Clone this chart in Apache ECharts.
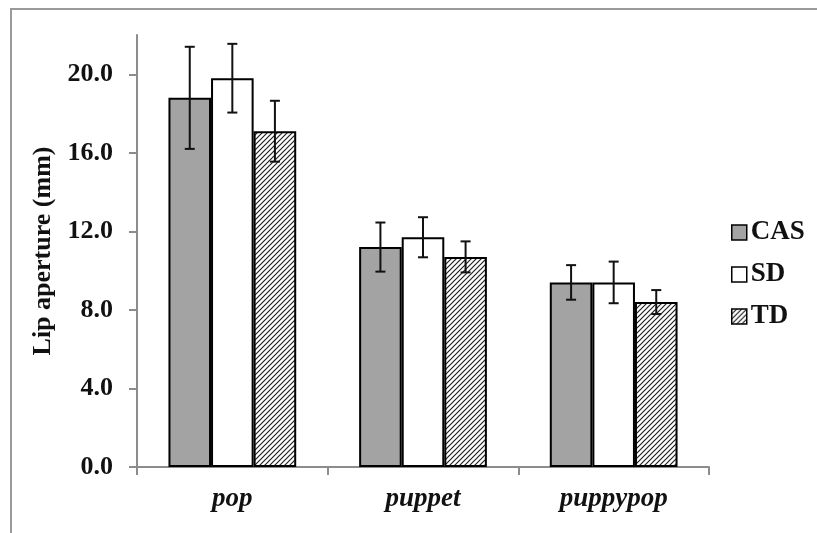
<!DOCTYPE html>
<html>
<head>
<meta charset="utf-8">
<script src="https://cdn.jsdelivr.net/npm/echarts@6/dist/echarts.min.js"></script>
<style>
html,body{margin:0;padding:0;background:#fff;}
#chart{width:817px;height:533px;}
</style>
</head>
<body>
<div id="chart"></div>
<script>
// ---- data ----
const categories = ['pop', 'puppet', 'puppypop'];
const seriesNames = ['CAS', 'SD', 'TD'];
const casMean = [18.8, 11.2, 9.4];
const casErr  = [2.6, 1.25, 0.88];
const sdMean  = [19.8, 11.7, 9.4];
const sdErr   = [1.75, 1.02, 1.06];
const tdMean  = [17.1, 10.7, 8.4];
const tdErr   = [1.55, 0.79, 0.61];
const yTicks  = [0, 4, 8, 12, 16, 20];

// ---- hatch pattern ----
function hatch() {
  const c = document.createElement('canvas');
  const s = 5;
  c.width = s; c.height = s;
  const ctx = c.getContext('2d');
  ctx.fillStyle = '#fff';
  ctx.fillRect(0, 0, s, s);
  ctx.strokeStyle = '#222';
  ctx.lineWidth = 1.2;
  ctx.beginPath();
  ctx.moveTo(-1, s + 1); ctx.lineTo(s + 1, -1);
  ctx.moveTo(-2, 2); ctx.lineTo(2, -2);
  ctx.moveTo(s - 2, s + 2); ctx.lineTo(s + 2, s - 2);
  ctx.stroke();
  return c;
}
const hatchImg = hatch();

const means = [casMean, sdMean, tdMean];
const errs = [casErr, sdErr, tdErr];
const fills = ['#a3a3a3', '#ffffff', {image: hatchImg, repeat: 'repeat'}];
const catGap = 0.33;
const font = '"Liberation Serif", "Times New Roman", serif';

const chart = echarts.init(document.getElementById('chart'));

const barSeries = seriesNames.map((name, i) => ({
  name: name,
  type: 'bar',
  data: means[i],
  barGap: '0%',
  barCategoryGap: (catGap * 100) + '%',
  itemStyle: {color: fills[i], borderColor: '#000', borderWidth: 2},
  emphasis: {disabled: true},
  silent: true,
  z: 2
}));

const errSeries = seriesNames.map((name, i) => ({
  type: 'custom',
  name: name + '_err',
  silent: true,
  z: 5,
  data: categories.map((c, k) => [k, means[i][k], errs[i][k]]),
  renderItem: function (params, api) {
    const k = api.value(0);
    const m = api.value(1);
    const e = api.value(2);
    const catW = api.size([1, 0])[0];
    const barW = catW * (1 - catGap) / 3;
    const center = api.coord([k, m])[0] + (i - 1) * barW;
    const top = api.coord([k, m + e])[1];
    const bot = api.coord([k, m - e])[1];
    const cap = 5;
    const st = {stroke: '#111', lineWidth: 2};
    return {
      type: 'group',
      children: [
        {type: 'line', shape: {x1: center, y1: top, x2: center, y2: bot}, style: st},
        {type: 'line', shape: {x1: center - cap, y1: top, x2: center + cap, y2: top}, style: st},
        {type: 'line', shape: {x1: center - cap, y1: bot, x2: center + cap, y2: bot}, style: st}
      ]
    };
  }
}));

chart.setOption({
  animation: false,
  backgroundColor: '#fff',
  grid: {left: 137, right: 108, top: 35, bottom: 66, containLabel: false},
  graphic: [{
    type: 'rect',
    shape: {x: 11, y: 9, width: 840, height: 560},
    style: {fill: 'none', stroke: '#9a9a9a', lineWidth: 2},
    silent: true,
    z: -1
  }],
  legend: {
    orient: 'vertical',
    left: 726,
    top: 214,
    icon: 'rect',
    itemWidth: 15,
    itemHeight: 15,
    itemGap: 15,
    data: seriesNames,
    itemStyle: {borderColor: '#000', borderWidth: 1.5},
    textStyle: {fontFamily: font, fontWeight: 'bold', fontSize: 27, color: '#111', padding: [0, 0, 0, -1]},
    selectedMode: false
  },
  xAxis: {
    type: 'category',
    data: categories,
    axisLine: {lineStyle: {color: '#8c8c8c', width: 2}},
    axisTick: {show: true, length: 8, lineStyle: {color: '#8c8c8c', width: 2}},
    axisLabel: {fontFamily: font, fontWeight: 'bold', fontStyle: 'italic', fontSize: 27, color: '#111', margin: 19}
  },
  yAxis: {
    type: 'value',
    min: 0,
    max: 22,
    interval: 2,
    name: 'Lip aperture (mm)',
    nameLocation: 'middle',
    nameGap: 78,
    nameRotate: 90,
    nameTextStyle: {fontFamily: font, fontWeight: 'bold', fontSize: 26, color: '#111'},
    splitLine: {show: false},
    axisLine: {show: true, lineStyle: {color: '#8c8c8c', width: 2}},
    axisTick: {show: true, length: 8, lineStyle: {color: '#8c8c8c', width: 2}, customValues: yTicks},
    axisLabel: {
      fontFamily: font, fontWeight: 'bold', fontSize: 26, color: '#111', margin: 24,
      customValues: yTicks,
      formatter: v => v.toFixed(1)
    }
  },
  series: barSeries.concat(errSeries)
});
</script>
</body>
</html>
